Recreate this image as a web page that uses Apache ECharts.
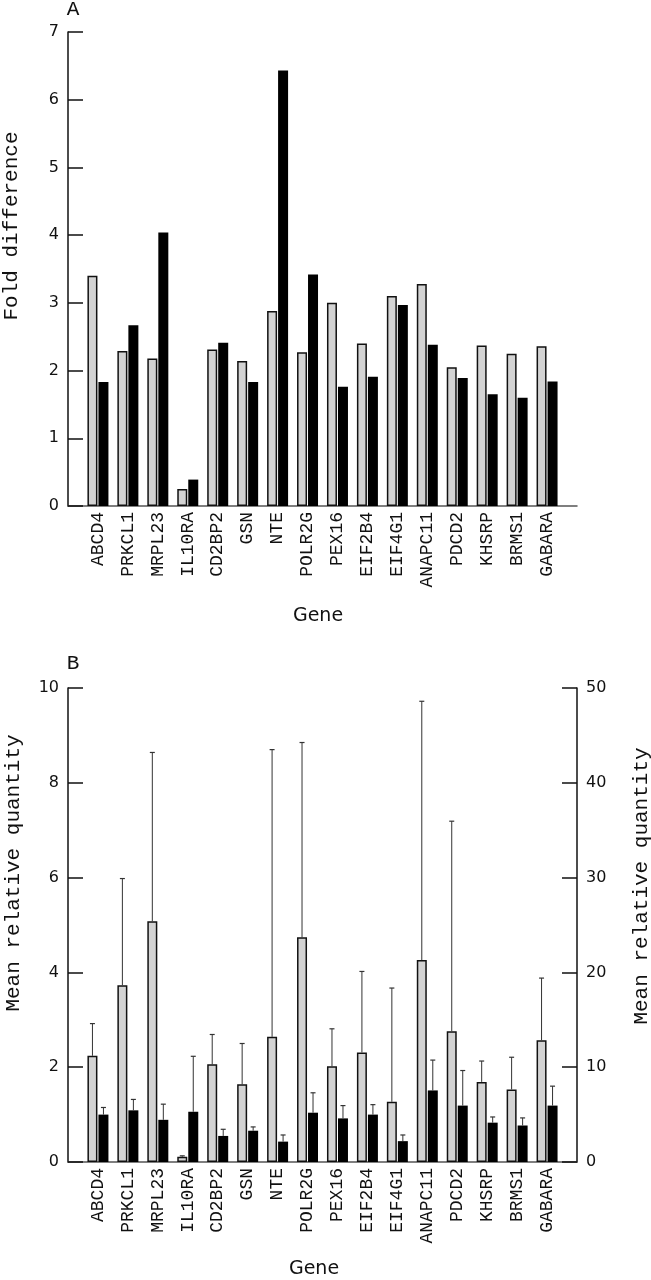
<!DOCTYPE html>
<html>
<head>
<meta charset="utf-8">
<script src="https://cdn.jsdelivr.net/npm/echarts@6/dist/echarts.min.js"></script>
<style>
html,body{margin:0;padding:0;background:#fff;}
#chart{width:651px;height:1280px;}
</style>
</head>
<body>
<div id="chart"></div>
<script>
// ---- data ----
const genes = ['ABCD4','PRKCL1','MRPL23','IL10RA','CD2BP2','GSN','NTE','POLR2G','PEX16','EIF2B4','EIF4G1','ANAPC11','PDCD2','KHSRP','BRMS1','GABARA'];
// Panel A: fold difference
const foldGrey  = [3.40,2.29,2.18,0.25,2.31,2.14,2.88,2.27,3.00,2.40,3.10,3.28,2.05,2.37,2.25,2.36];
const foldBlack = [1.83,2.67,4.04,0.39,2.41,1.83,6.43,3.42,1.76,1.91,2.97,2.38,1.89,1.65,1.60,1.84];
// Panel B: mean relative quantity (left-axis units) and upper error bar ends
const meanGrey       = [2.24,3.73,5.08,0.11,2.06,1.64,2.64,4.74,2.02,2.31,1.27,4.26,2.76,1.69,1.53,2.57];
const meanGreyUpper  = [2.92,5.98,8.64,0.13,2.69,2.50,8.70,8.85,2.81,4.02,3.67,9.72,7.19,2.13,2.21,3.88];
const meanBlack      = [1.00,1.09,0.89,1.06,0.55,0.66,0.43,1.04,0.92,1.00,0.44,1.51,1.19,0.83,0.77,1.19];
const meanBlackUpper = [1.15,1.32,1.22,2.23,0.69,0.74,0.57,1.46,1.19,1.21,0.57,2.15,1.93,0.95,0.93,1.60];
// axis ranges
const axisA = {min:0, max:7, interval:1};
const axisBLeft = {min:0, max:10, interval:2};
const axisBRight = {min:0, max:50, interval:10};

// ---- build ----
const cats = [''].concat(genes).concat(['']);
const pad = arr => ['-'].concat(arr).concat(['-']);
const monoFont = '"Liberation Mono", "DejaVu Sans Mono", monospace';
const sansFont = '"DejaVu Sans", sans-serif';
const BAR_W = 10, OFF = 5.5;

function xAx(gi){
  return {
    type:'category', gridIndex:gi, data:cats, boundaryGap:false,
    axisLine:{show:true, lineStyle:{color:'#555', width:1.5}},
    axisTick:{show:false},
    axisLabel:{interval:0, rotate:90, margin:6, color:'#111', fontFamily:monoFont, fontSize:18},
    splitLine:{show:false}
  };
}
function yAx(gi, rng, pos){
  return {
    type:'value', gridIndex:gi, position:pos, min:rng.min, max:rng.max, interval:rng.interval,
    axisLine:{show:true, lineStyle:{color:'#111', width:1.5}},
    axisTick:{show:true, inside:true, length:15, lineStyle:{color:'#111', width:1.5}},
    axisLabel:{color:'#111', fontFamily:sansFont, fontSize:16, margin:9},
    splitLine:{show:false}
  };
}
function errSeries(xi, yi, means, uppers, dx){
  return {
    type:'custom', xAxisIndex:xi, yAxisIndex:yi, z:5,
    data: means.map((m,i)=>[i+1, m, uppers[i]]),
    encode:{x:0, y:[1,2]},
    renderItem:function(params, api){
      const x = api.value(0);
      const p0 = api.coord([x, api.value(1)]);
      const p1 = api.coord([x, api.value(2)]);
      const cx = p0[0] + dx;
      return {type:'group', children:[
        {type:'line', shape:{x1:cx, y1:p0[1], x2:cx, y2:p1[1]}, style:{stroke:'#333', lineWidth:1}},
        {type:'line', shape:{x1:cx-2.5, y1:p1[1], x2:cx+2.5, y2:p1[1]}, style:{stroke:'#333', lineWidth:1.2}}
      ]};
    }
  };
}
const greyStyle = {color:'#d3d3d3', borderColor:'#111', borderWidth:1.5};
const blackStyle = {color:'#000'};

const option = {
  animation:false,
  backgroundColor:'#fff',
  grid:[
    {left:68, width:509, top:32, height:474},
    {left:68, width:509, top:688, height:474}
  ],
  xAxis:[xAx(0), xAx(1)],
  yAxis:[yAx(0, axisA, 'left'), yAx(1, axisBLeft, 'left'), yAx(1, axisBRight, 'right')],
  series:[
    {type:'bar', xAxisIndex:0, yAxisIndex:0, data:pad(foldGrey), barWidth:BAR_W, barGap:'10%', itemStyle:greyStyle},
    {type:'bar', xAxisIndex:0, yAxisIndex:0, data:pad(foldBlack), barWidth:BAR_W, barGap:'10%', itemStyle:blackStyle},
    {type:'bar', xAxisIndex:1, yAxisIndex:1, data:pad(meanGrey), barWidth:BAR_W, barGap:'10%', itemStyle:greyStyle},
    {type:'bar', xAxisIndex:1, yAxisIndex:1, data:pad(meanBlack), barWidth:BAR_W, barGap:'10%', itemStyle:blackStyle},
    errSeries(1, 1, meanGrey, meanGreyUpper, -OFF),
    errSeries(1, 1, meanBlack, meanBlackUpper, OFF)
  ],
  graphic:[
    {type:'text', x:73, y:9, style:{text:'A', font:'21px '+monoFont, fill:'#111', align:'center', verticalAlign:'middle'}},
    {type:'text', x:73, y:663, style:{text:'B', font:'21px '+monoFont, fill:'#111', align:'center', verticalAlign:'middle'}},
    {type:'text', x:11, y:226, rotation:Math.PI/2, style:{text:'Fold difference', font:'21px '+monoFont, fill:'#111', align:'center', verticalAlign:'middle'}},
    {type:'text', x:13, y:873, rotation:Math.PI/2, style:{text:'Mean relative quantity', font:'21px '+monoFont, fill:'#111', align:'center', verticalAlign:'middle'}},
    {type:'text', x:641, y:886, rotation:Math.PI/2, style:{text:'Mean relative quantity', font:'21px '+monoFont, fill:'#111', align:'center', verticalAlign:'middle'}},
    {type:'text', x:318, y:616, style:{text:'Gene', font:'19px '+sansFont, fill:'#111', align:'center', verticalAlign:'middle'}},
    {type:'text', x:314, y:1269, style:{text:'Gene', font:'19px '+sansFont, fill:'#111', align:'center', verticalAlign:'middle'}}
  ]
};
const chart = echarts.init(document.getElementById('chart'), null, {renderer:'canvas'});
chart.setOption(option);
</script>
</body>
</html>
